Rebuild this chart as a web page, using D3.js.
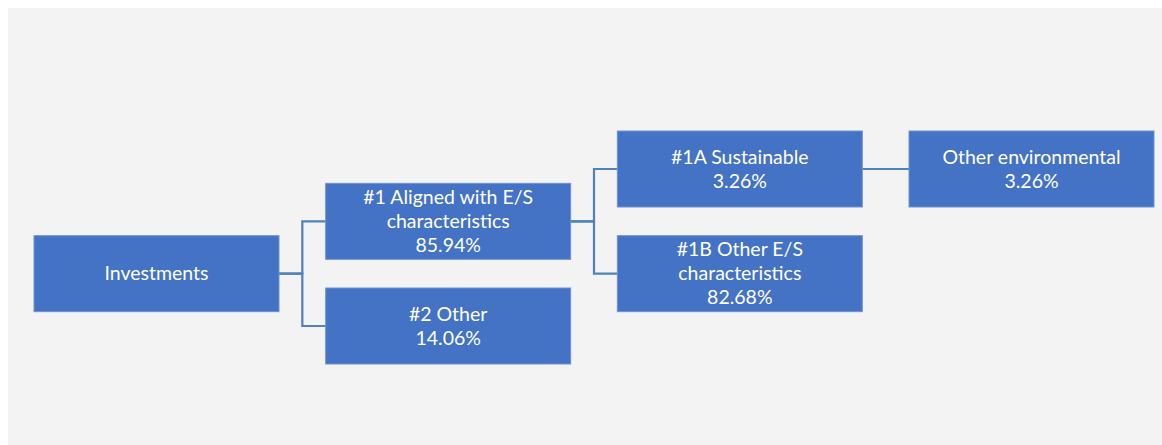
<!DOCTYPE html>
<html>
<head>
<meta charset="utf-8">
<script src="https://cdn.jsdelivr.net/npm/d3@7"></script>
<style>
  body { margin: 0; background: #ffffff; }
  svg { display: block; }
</style>
</head>
<body>
<div class="chart"></div>
<script>
// Investment allocation tree
var nodeNames = [
    ["Investments"],
    ["#1 Aligned with E/S", "characteristics"],
    ["#2 Other"],
    ["#1A Sustainable"],
    ["#1B Other E/S", "characteristics"],
    ["Other environmental"]
];
var nodeValues = [null, "85.94%", "14.06%", "3.26%", "82.68%", "3.26%"];
var nodeColumns = [0, 1, 1, 2, 2, 3];
var nodeRows = [2, 1, 3, 0, 2, 0];
var parents = [null, 0, 0, 1, 1, 3];

var svgWidth = 1162;
var svgHeight = 445;

var boxWidth = 245;
var boxHeight = 76;

var svg = d3.select(".chart")
    .append("svg")
    .attr("width", svgWidth)
    .attr("height", svgHeight);

// grey plot area
svg.append("rect")
    .attr("x", 8)
    .attr("y", 8)
    .attr("width", svgWidth - 8)
    .attr("height", svgHeight - 8)
    .attr("fill", "#f3f3f3");

// column -> left edge, row -> box centre
var xScale = d3.scaleLinear().domain([0, 3]).range([34, 909]);
var yScale = d3.scaleLinear().domain([0, 3]).range([169, 326]);

var nodes = nodeNames.map(function (name, i) {
    return {
        lines: nodeValues[i] ? name.concat([nodeValues[i]]) : name,
        x: xScale(nodeColumns[i]),
        y: yScale(nodeRows[i]),
        parent: parents[i]
    };
});

// elbow connectors
var links = nodes.filter(d => d.parent !== null);
svg.append("g").selectAll("path")
    .data(links)
    .enter()
    .append("path")
    .attr("d", function (d) {
        var p = nodes[d.parent];
        var x0 = p.x + boxWidth;
        var xm = (x0 + d.x) / 2;
        return `M${x0},${p.y}H${xm}V${d.y}H${d.x}`;
    })
    .attr("fill", "none")
    .attr("stroke", "#4f81bd")
    .attr("stroke-width", 2.2);

var boxes = svg.append("g").selectAll("g")
    .data(nodes)
    .enter()
    .append("g")
    .attr("transform", d => `translate(${d.x}, ${d.y - boxHeight / 2})`);

boxes.append("rect")
    .attr("width", boxWidth)
    .attr("height", boxHeight)
    .attr("fill", "#4472c4")
    .attr("stroke", "#6f93d3")
    .attr("stroke-width", 1);

var lineHeight = 24;
boxes.each(function (d) {
    var g = d3.select(this);
    var n = d.lines.length;
    var y0 = boxHeight / 2 - (n - 1) * lineHeight / 2;
    d.lines.forEach(function (t, j) {
        g.append("text")
            .attr("x", boxWidth / 2)
            .attr("y", y0 + j * lineHeight)
            .attr("dy", "0.35em")
            .attr("text-anchor", "middle")
            .attr("fill", "#ffffff")
            .style("font-family", "Lato, 'Open Sans', sans-serif")
            .style("font-size", "19.5px")
            .text(t);
    });
});
</script>
</body>
</html>
